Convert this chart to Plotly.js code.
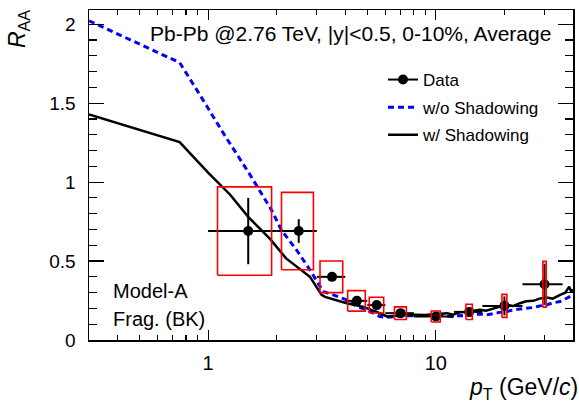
<!DOCTYPE html>
<html>
<head>
<meta charset="utf-8">
<script src="https://cdn.plot.ly/plotly-3.0.1.min.js"></script>
<style>html,body{margin:0;padding:0;background:#fff;}#chart{width:579px;height:403px;}</style>
</head>
<body>
<div id="chart"></div>
<script>
// ---- Data ----
const dataPt      = [1.5, 2.5, 3.5, 4.5, 5.5, 7, 10, 14, 20, 30];
const dataRaa     = [0.69, 0.69, 0.40, 0.248, 0.221, 0.170, 0.149, 0.178, 0.216, 0.353];
const dataStat    = [0.21, 0.075, 0.02, 0.015, 0.015, 0.01, 0.01, 0.03, 0.06, 0.13];
const dataPtLow   = [0.5, 0.5, 0.5, 0.5, 0.5, 1, 2, 2, 4, 6];
const dataPtHigh  = [0.5, 0.5, 0.5, 0.5, 0.5, 1, 2, 2, 4, 6];
const dataSys     = [0.28, 0.245, 0.10, 0.065, 0.05, 0.04, 0.035, 0.048, 0.073, 0.145];
const sysBoxHalfW = [0.4, 0.4, 0.4, 0.4, 0.4, 0.42, 0.45, 0.45, 0.5, 0.5];

const noShadPt  = [0.3, 0.75, 0.919, 1.164, 1.524, 1.90, 2.10, 2.445, 2.80, 2.99, 3.20, 3.54, 4.06, 4.49, 4.97, 5.68, 6.08, 7.0, 8.0, 9.0, 10.4, 11.2, 11.9, 12.7, 13.6, 14.5, 15.6, 16.6, 17.9, 19.0, 20.5, 21.8, 23.4, 24.9, 26.8, 28.5, 30.7, 32.6, 35.1, 37.0, 38.5, 40];
const noShadRaa = [2.022, 1.757, 1.554, 1.312, 1.049, 0.822, 0.696, 0.57, 0.444, 0.38, 0.307, 0.286, 0.254, 0.212, 0.191, 0.149, 0.143, 0.152, 0.155, 0.153, 0.158, 0.152, 0.148, 0.155, 0.153, 0.160, 0.164, 0.158, 0.170, 0.175, 0.180, 0.190, 0.196, 0.200, 0.206, 0.215, 0.223, 0.235, 0.244, 0.260, 0.275, 0.286];

const shadPt  = [0.3, 0.75, 1.0, 1.25, 1.5, 1.87, 2.2, 2.8, 3.15, 3.26, 4.06, 4.8, 5.5, 6.1, 7.0, 8.1, 9.0, 10.4, 11.2, 11.9, 12.7, 13.6, 14.5, 15.6, 16.6, 17.9, 19.0, 20.5, 21.8, 23.4, 24.9, 26.8, 28.5, 30.7, 32.6, 35.1, 37.0, 38.5, 39.3, 40];
const shadRaa = [1.428, 1.253, 1.06, 0.92, 0.78, 0.64, 0.517, 0.40, 0.286, 0.273, 0.233, 0.21, 0.178, 0.149, 0.155, 0.160, 0.158, 0.164, 0.170, 0.160, 0.175, 0.177, 0.185, 0.191, 0.186, 0.202, 0.210, 0.223, 0.215, 0.233, 0.245, 0.248, 0.262, 0.269, 0.262, 0.286, 0.300, 0.338, 0.305, 0.320];

const xMajorTicks = [1, 10];
const xMajorLabels = ['1', '10'];
const xMinorTicks = [0.3, 0.4, 0.5, 0.6, 0.7, 0.8, 0.9, 2, 3, 4, 5, 6, 7, 8, 9, 20, 30, 40];

// ---- Build systematic boxes from the data arrays ----
const boxX = [], boxY = [];
for (let i = 0; i < dataPt.length; i++) {
  const x0 = dataPt[i] - sysBoxHalfW[i], x1 = dataPt[i] + sysBoxHalfW[i];
  const y0 = dataRaa[i] - dataSys[i], y1 = dataRaa[i] + dataSys[i];
  boxX.push(x0, x1, x1, x0, x0, null);
  boxY.push(y0, y0, y1, y1, y0, null);
}

const FONT = 'Liberation Sans, Arial, Helvetica, sans-serif';

const traces = [
  {
    x: noShadPt, y: noShadRaa, type: 'scatter', mode: 'lines', name: 'w/o Shadowing',
    line: {color: '#0000ff', width: 3, dash: '6px,4px'}, legendgroup: 'b', legendrank: 2, hoverinfo: 'skip'
  },
  {
    x: shadPt, y: shadRaa, type: 'scatter', mode: 'lines', name: 'w/ Shadowing',
    line: {color: '#000000', width: 2.5}, legendgroup: 'c', legendrank: 3, hoverinfo: 'skip'
  },
  {
    x: dataPt, y: dataRaa, type: 'scatter', mode: 'markers', name: 'Data', showlegend: false,
    marker: {color: '#000', size: 10, symbol: 'circle'},
    error_y: {type: 'data', array: dataStat, visible: true, color: '#000', thickness: 2, width: 0},
    error_x: {type: 'data', array: dataPtHigh, arrayminus: dataPtLow, visible: true, color: '#000', thickness: 2, width: 0},
    hoverinfo: 'skip'
  },
  {
    x: [null], y: [null], type: 'scatter', mode: 'lines+markers', name: 'Data',
    line: {color: '#000', width: 2}, marker: {color: '#000', size: 10}, legendgroup: 'a', legendrank: 1
  },
  {
    x: boxX, y: boxY, type: 'scatter', mode: 'lines', showlegend: false,
    line: {color: '#ff0000', width: 1.6}, hoverinfo: 'skip'
  }
];

const L = 89, R = 573, T = 10, B = 340;
const px = v => (v - L) / (R - L);
const py = v => (B - v) / (B - T);

const layout = {
  width: 579, height: 403,
  margin: {l: L, r: 579 - R, t: T, b: 403 - B, pad: 0},
  paper_bgcolor: '#fff', plot_bgcolor: '#fff',
  font: {family: FONT, color: '#000', size: 17},
  showlegend: true,
  legend: {
    x: px(383), y: py(62), xanchor: 'left', yanchor: 'top',
    bgcolor: 'rgba(0,0,0,0)', borderwidth: 0,
    font: {family: FONT, size: 17, color: '#000'},
    traceorder: 'grouped', tracegroupgap: 2.5
  },
  xaxis: {
    type: 'log', range: [Math.log10(0.3), Math.log10(40)],
    showline: true, linecolor: '#000', linewidth: 1.5, mirror: 'ticks',
    ticks: 'inside', ticklen: 10, tickwidth: 1.2, tickcolor: '#000',
    tickmode: 'array', tickvals: xMajorTicks, ticktext: xMajorLabels,
    tickfont: {family: FONT, size: 20, color: '#000'}, ticklabelstandoff: 4,
    showgrid: false, zeroline: false,
    minor: {tickmode: 'array', tickvals: xMinorTicks, ticks: 'inside', ticklen: 5, tickwidth: 1.2, tickcolor: '#000', showgrid: false}
  },
  yaxis: {
    range: [0, 2.09],
    showline: true, linecolor: '#000', linewidth: 1.5, mirror: 'ticks',
    ticks: 'inside', ticklen: 15, tickwidth: 1.2, tickcolor: '#000',
    tickmode: 'linear', tick0: 0, dtick: 0.5,
    tickfont: {family: FONT, size: 19, color: '#000'}, ticklabelstandoff: 8,
    showgrid: false, zeroline: false,
    minor: {tickmode: 'linear', tick0: 0, dtick: 0.1, ticks: 'inside', ticklen: 8, tickwidth: 1.2, tickcolor: '#000', showgrid: false}
  },
  annotations: [
    {xref: 'paper', yref: 'paper', x: px(350.5), y: py(33), xanchor: 'center', yanchor: 'middle',
     text: 'Pb-Pb @2.76 TeV, |y|<0.5, 0-10%, Average', showarrow: false,
     font: {family: FONT, size: 21, color: '#000'}},
    {xref: 'paper', yref: 'paper', x: px(111), y: py(291), xanchor: 'left', yanchor: 'middle',
     text: 'Model-A', showarrow: false, font: {family: FONT, size: 20, color: '#000'}},
    {xref: 'paper', yref: 'paper', x: px(111), y: py(319), xanchor: 'left', yanchor: 'middle',
     text: 'Frag. (BK)', showarrow: false, font: {family: FONT, size: 20, color: '#000'}},
    {xref: 'paper', yref: 'paper', x: px(580), y: py(388), xanchor: 'right', yanchor: 'middle',
     text: '<i>p</i><sub>T</sub> (GeV/<i>c</i>)', showarrow: false, font: {family: FONT, size: 23, color: '#000'}},
    {xref: 'paper', yref: 'paper', x: px(18), y: py(29), xanchor: 'center', yanchor: 'middle', textangle: -90,
     text: '<i>R</i><sub>AA</sub>', showarrow: false, font: {family: FONT, size: 23, color: '#000'}}
  ]
};

Plotly.newPlot('chart', traces, layout, {staticPlot: true, displayModeBar: false});
</script>
</body>
</html>
